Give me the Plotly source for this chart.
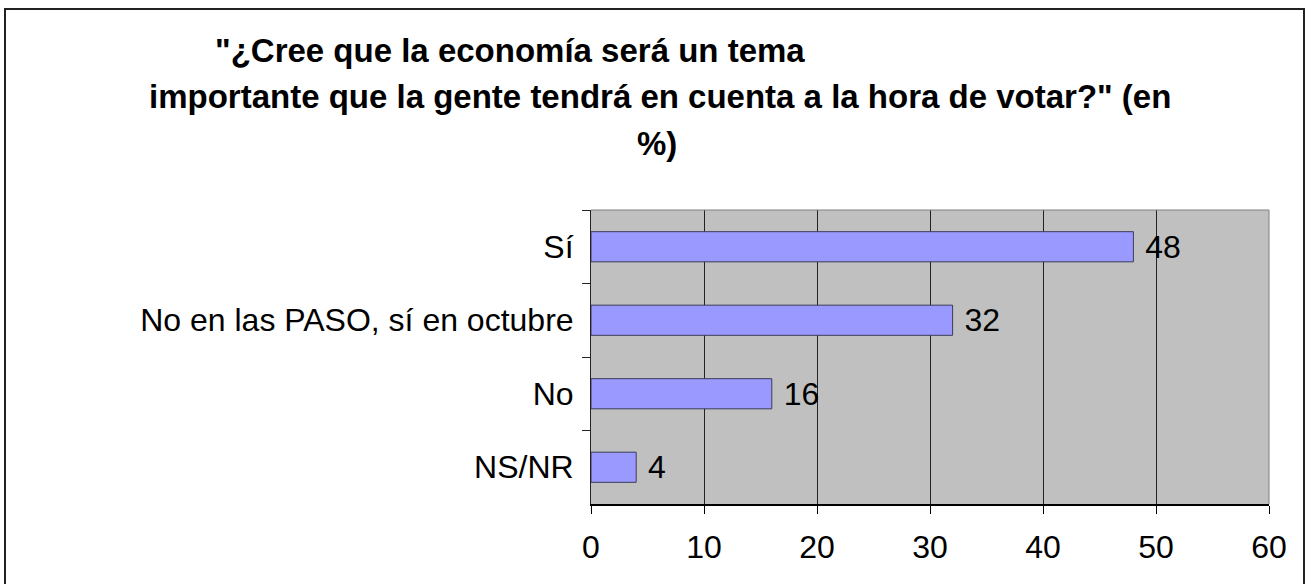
import plotly.graph_objects as go

categories = ["Sí", "No en las PASO, sí en octubre", "No", "NS/NR"]
values = [48, 32, 16, 4]
x_ticks = [0, 10, 20, 30, 40, 50, 60]
title_lines = ["\"¿Cree que la economía será un tema",
               "importante que la gente tendrá en cuenta a la hora de votar?\" (en",
               "%)"]

W, H = 1307, 584
L, R, T, B = 591, 1269, 210, 504
pw, ph = R - L, B - T


def px_x(p):
    return (p - L) / pw


def px_y(p):
    return (B - p) / ph


FONT = "Liberation Sans, Arial, sans-serif"
FS = 32

fig = go.Figure(go.Bar(
    x=values, y=categories, orientation="h",
    width=0.41,
    marker=dict(color="#9999FF", line=dict(color="#3C3C5A", width=1)),
    text=values, texttemplate="\u00a0%{x}", textposition="outside",
    textfont=dict(family=FONT, size=FS, color="black"),
    constraintext="none",
    cliponaxis=False, hoverinfo="skip",
))

shapes = [
    # outer chart border
    dict(type="rect", xref="paper", yref="paper",
         x0=px_x(5), x1=px_x(1304), y0=px_y(600), y1=px_y(9),
         line=dict(color="#222", width=2), layer="above"),
    # top and right plot border (gray)
    dict(type="line", xref="paper", yref="paper", x0=0, x1=1, y0=1, y1=1,
         line=dict(color="#808080", width=1)),
    dict(type="line", xref="paper", yref="paper", x0=1, x1=1, y0=0, y1=1,
         line=dict(color="#808080", width=1)),
]

annotations = []
title_pos = [(510, 50), (660, 96), (657, 143)]
for txt, (cx, cy) in zip(title_lines, title_pos):
    annotations.append(dict(
        text="<b>" + txt + "</b>", xref="paper", yref="paper",
        x=px_x(cx), y=px_y(cy), xanchor="center", yanchor="middle",
        showarrow=False, font=dict(family=FONT, size=33, color="black"),
    ))

fig.update_layout(
    width=W, height=H,
    margin=dict(l=L, r=W - R, t=T, b=H - B, pad=0),
    paper_bgcolor="white", plot_bgcolor="#C0C0C0",
    showlegend=False,
    font=dict(family=FONT, size=FS, color="black"),
    shapes=shapes, annotations=annotations,
    bargap=0.59,
)
fig.update_xaxes(
    range=[0, 60], tickvals=x_ticks, ticktext=[str(v) for v in x_ticks],
    showgrid=True, gridcolor="#222", gridwidth=1,
    zeroline=False, showline=True, linecolor="black", linewidth=1.5,
    ticks="outside", ticklen=8, tickcolor="black", tickwidth=1,
    tickfont=dict(family=FONT, size=FS, color="black"),
    ticklabelstandoff=6,
)
fig.update_yaxes(
    categoryorder="array", categoryarray=categories,
    range=[3.5, -0.5],
    showgrid=False, zeroline=False,
    showline=True, linecolor="#222", linewidth=1,
    ticks="outside", ticklen=8, tickcolor="#222", tickwidth=1,
    tickson="boundaries",
    tickfont=dict(family=FONT, size=FS, color="black"),
    ticklabelstandoff=10,
)

fig.write_html("out.html", config={"displayModeBar": False},
               post_script="document.body.style.margin='0';")
